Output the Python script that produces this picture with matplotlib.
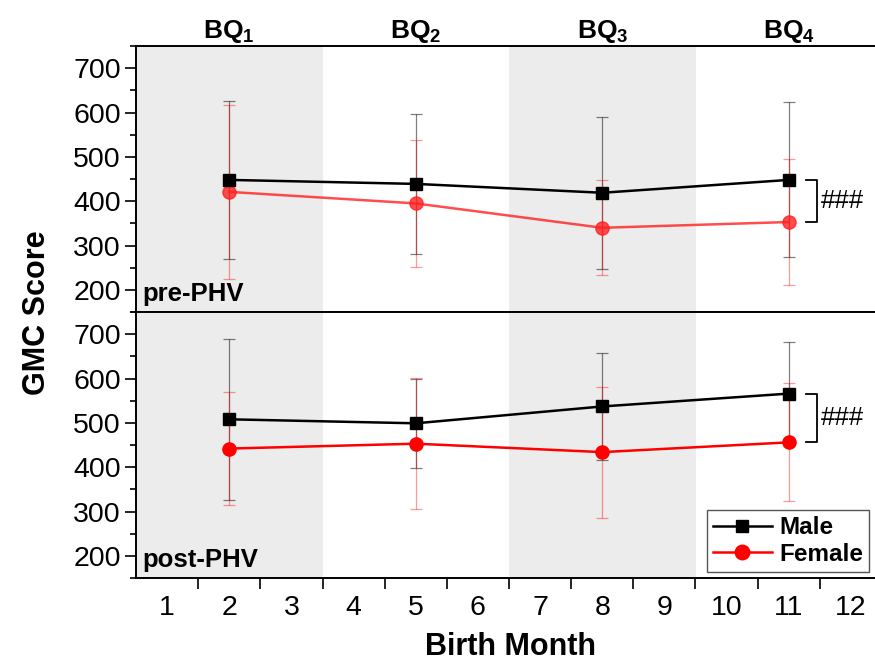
import numpy as np
import matplotlib
matplotlib.use('Agg')
import matplotlib.pyplot as plt

plt.rcParams['font.family'] = ['Liberation Sans', 'DejaVu Sans']
plt.rcParams['mathtext.fontset'] = 'custom'
plt.rcParams['mathtext.rm'] = 'Liberation Sans'
plt.rcParams['mathtext.bf'] = 'Liberation Sans:bold'

# birth month of each quarter's midpoint
months = [2, 5, 8, 11]
quarters = ['BQ_1', 'BQ_2', 'BQ_3', 'BQ_4']

# pre-PHV
male_pre = [448, 439, 419, 448]
male_pre_sd = [178, 157, 172, 175]
female_pre = [421, 395, 340, 353]
female_pre_sd = [197, 143, 107, 143]

# post-PHV
male_post = [508, 499, 537, 566]
male_post_sd = [181, 101, 121, 117]
female_post = [442, 453, 434, 456]
female_post_sd = [127, 148, 148, 133]

fig = plt.figure(figsize=(8.75, 6.66), dpi=100)
left = 136/875
width = (882 - 136)/875
ax1 = fig.add_axes([left, 0.5315, width, 0.3994])
ax2 = fig.add_axes([left, 0.1321, width, 0.3994])


def draw_panel(ax, male, male_sd, female, female_sd, fcol, falpha):
    ax.axvspan(0.5, 3.5, color='#ececec', zorder=0, lw=0)
    ax.axvspan(6.5, 9.5, color='#ececec', zorder=0, lw=0)
    ax.errorbar(months, male, yerr=male_sd, fmt='none', ecolor='black',
                alpha=0.5, elinewidth=0.9, capsize=4, capthick=0.9, zorder=2)
    ax.errorbar(months, female, yerr=female_sd, fmt='none', ecolor='red',
                alpha=0.4, elinewidth=0.9, capsize=4, capthick=0.9, zorder=2)
    ax.plot(months, male, '-s', color='black', lw=1.8, ms=8.5,
            label='Male', zorder=4)
    ax.plot(months, female, '-o', color=fcol, lw=1.8, ms=9.5, alpha=falpha,
            label='Female', zorder=3)
    # significance bracket between the groups at the last quarter
    x0, x1 = 11.27, 11.45
    ax.plot([x0, x1, x1, x0], [male[-1], male[-1], female[-1], female[-1]],
            color='black', lw=1.3, clip_on=False, zorder=5)
    ax.text(11.52, (male[-1] + female[-1])/2, '###', fontsize=18.5,
            va='center', ha='left')

    ax.set_xlim(0.5, 12.5)
    ax.set_ylim(150, 750)
    ax.set_yticks([200, 300, 400, 500, 600, 700])
    ax.set_yticks(np.arange(150, 751, 50), minor=True)
    ax.tick_params(axis='y', which='both', direction='out', labelsize=20.5,
                   width=1.2, pad=3)
    ax.tick_params(axis='y', which='major', length=8)
    ax.tick_params(axis='y', which='minor', length=4)
    for s in ax.spines.values():
        s.set_linewidth(1.4)


draw_panel(ax1, male_pre, male_pre_sd, female_pre, female_pre_sd, '#ff2020', 0.8)
draw_panel(ax2, male_post, male_post_sd, female_post, female_post_sd, 'red', 1.0)

ax1.set_xticks([])
ax2.set_xticks(range(1, 13))
ax2.set_xticks(np.arange(1.5, 12.5, 1), minor=True)
ax2.tick_params(axis='x', which='major', length=0, labelsize=20.5, pad=12)
ax2.tick_params(axis='x', which='minor', length=8, width=1.2, direction='out')

ax1.text(0.6, 163, 'pre-PHV', fontsize=18.5, fontweight='bold', va='bottom')
ax2.text(0.6, 163, 'post-PHV', fontsize=18.5, fontweight='bold', va='bottom')

for m, q in zip(months, quarters):
    ax1.text(m, 768, r'$\mathbf{' + q + '}$', fontsize=19,
             ha='center', va='baseline', clip_on=False)

fig.text(0.042, 0.53, 'GMC Score', rotation=90, fontsize=22,
         fontweight='bold', ha='center', va='center')
fig.text(0.583, 0.029, 'Birth Month', fontsize=22, fontweight='bold',
         ha='center', va='center')

leg = ax2.legend(loc='lower right', bbox_to_anchor=(869/875, 1 - 572/666),
                 bbox_transform=fig.transFigure, borderaxespad=0,
                 fancybox=False, edgecolor='#555555', framealpha=1,
                 prop={'weight': 'bold', 'size': 17.5}, handlelength=2.4,
                 handletextpad=0.3, borderpad=0.25, labelspacing=0.15,
                 markerscale=1.1)
leg.get_frame().set_linewidth(1.0)

fig.savefig('out.png', dpi=100)
